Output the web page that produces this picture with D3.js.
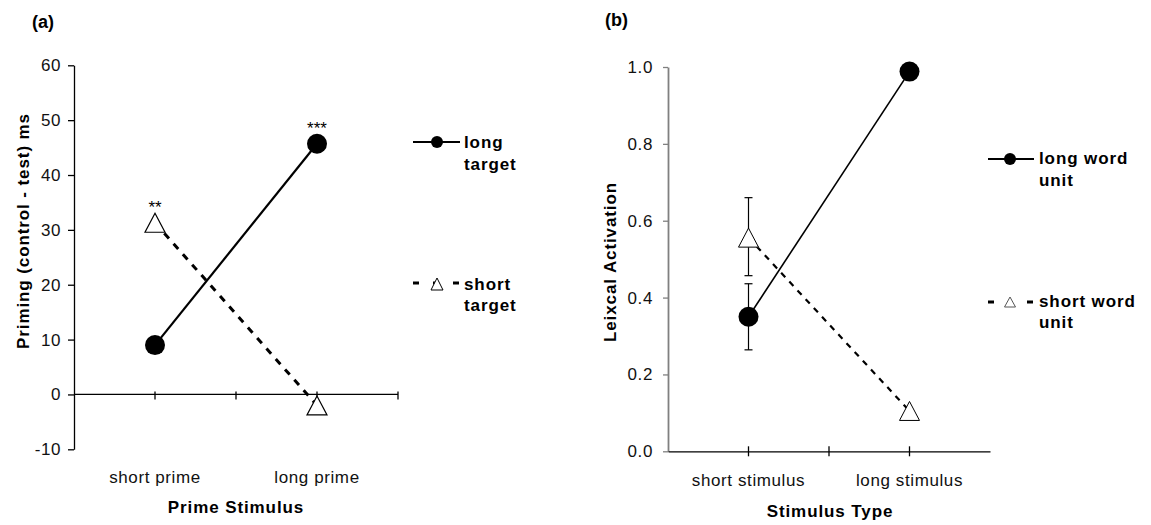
<!DOCTYPE html>
<html>
<head>
<meta charset="utf-8">
<script src="https://cdn.jsdelivr.net/npm/d3@7"></script>
<style>
  body { margin: 0; background: #fff; }
  text { font-family: Arial, "Liberation Sans", sans-serif; }
</style>
</head>
<body>
<svg id="chart" width="1151" height="525"></svg>
<script>
// panel (a) data
const primeCats = ["short prime", "long prime"];
const longTarget = [9.0, 45.7];
const shortTarget = [31.3, -2.0];
const longStars = ["", "***"];
const shortStars = ["**", ""];
const primeTicks = [-10, 0, 10, 20, 30, 40, 50, 60];

// panel (b) data
const stimCats = ["short stimulus", "long stimulus"];
const longWord = [0.35, 0.988];
const longWordLo = [0.264, null];
const longWordHi = [0.436, null];
const shortWord = [0.556, 0.105];
const shortWordLo = [0.457, null];
const shortWordHi = [0.66, null];
const actTicks = [0, 0.2, 0.4, 0.6, 0.8, 1.0];

const svg = d3.select("#chart");

// triangle centred on its bounding box, like the excel marker
const tri = (w, h) => `M0,${-h / 2}L${w / 2},${h / 2}L${-w / 2},${h / 2}Z`;

// the source image is a bit stretched sideways, letter-spacing makes up for it
function tickFont(sel) {
  sel.attr("font-size", "17px").attr("letter-spacing", "0.6px").attr("fill", "#111");
}
function boldFont(sel) {
  sel.attr("font-size", "17px").attr("font-weight", "bold").attr("letter-spacing", "0.9px");
}

function axisStyle(g, col) {
  g.selectAll("path").attr("stroke", col).attr("stroke-width", 1.3);
  g.selectAll("line").attr("stroke", col).attr("stroke-width", 1.3);
  g.selectAll("text").call(tickFont);
}

// ---------------- panel (a) ----------------
const xa = d3.scaleBand().domain(primeCats).range([74, 398]);
const ya = d3.scaleLinear().domain([-10, 60]).range([449.3, 65.3]);
const cxa = c => xa(c) + xa.bandwidth() / 2;

svg.append("text").attr("x", 32).attr("y", 28)
  .attr("font-size", "18px").attr("font-weight", "bold").text("(a)");

const yAxA = svg.append("g").attr("transform", "translate(74,0)")
  .call(d3.axisLeft(ya).tickValues(primeTicks).tickFormat(d => String(d))
    .tickSize(6).tickSizeOuter(0).tickPadding(7));
axisStyle(yAxA, "#000");

// x axis sits on zero, ticks at band edges and centres
const xa0 = ya(0);
svg.append("line").attr("x1", 74).attr("x2", 398).attr("y1", xa0).attr("y2", xa0)
  .attr("stroke", "#000").attr("stroke-width", 1.3);
const tickXa = [cxa(primeCats[0]), xa(primeCats[1]), cxa(primeCats[1]), 398];
svg.selectAll(".tka").data(tickXa).join("line")
  .attr("x1", d => d).attr("x2", d => d).attr("y1", xa0 - 3).attr("y2", xa0 + 5)
  .attr("stroke", "#000").attr("stroke-width", 1.3);
svg.selectAll(".cla").data(primeCats).join("text")
  .attr("x", d => cxa(d)).attr("y", 483).attr("text-anchor", "middle")
  .call(tickFont).text(d => d);

svg.append("text").attr("x", 236).attr("y", 513).attr("text-anchor", "middle")
  .call(boldFont).text("Prime Stimulus");
svg.append("text").attr("transform", "translate(29,231) rotate(-90)")
  .attr("text-anchor", "middle").call(boldFont)
  .text("Priming (control - test) ms");

const lineA = d3.line().x((d, i) => cxa(primeCats[i])).y(d => ya(d));
svg.append("path").datum(shortTarget).attr("d", lineA)
  .attr("fill", "none").attr("stroke", "#000").attr("stroke-width", 3)
  .attr("stroke-dasharray", "7,7");
svg.append("path").datum(longTarget).attr("d", lineA)
  .attr("fill", "none").attr("stroke", "#000").attr("stroke-width", 2.2);

svg.selectAll(".tria").data(shortTarget).join("path")
  .attr("d", tri(20, 19))
  .attr("transform", (d, i) => `translate(${cxa(primeCats[i])},${ya(d)})`)
  .attr("fill", "#fff").attr("stroke", "#000").attr("stroke-width", 1.2);
svg.selectAll(".dota").data(longTarget).join("circle")
  .attr("cx", (d, i) => cxa(primeCats[i])).attr("cy", d => ya(d)).attr("r", 10)
  .attr("fill", "#000");

// significance stars above the points
svg.selectAll(".stl").data(longTarget).join("text")
  .attr("x", (d, i) => cxa(primeCats[i])).attr("y", d => ya(d) - 10)
  .attr("text-anchor", "middle").attr("font-size", "17px")
  .text((d, i) => longStars[i]);
svg.selectAll(".sts").data(shortTarget).join("text")
  .attr("x", (d, i) => cxa(primeCats[i])).attr("y", d => ya(d) - 10)
  .attr("text-anchor", "middle").attr("font-size", "17px")
  .text((d, i) => shortStars[i]);

// legend (a)
const legA = svg.append("g");
legA.append("line").attr("x1", 413).attr("x2", 460).attr("y1", 142).attr("y2", 142)
  .attr("stroke", "#000").attr("stroke-width", 2);
legA.append("circle").attr("cx", 437).attr("cy", 142).attr("r", 6).attr("fill", "#000");
legA.append("text").attr("x", 464).attr("y", 148).call(boldFont).text("long");
legA.append("text").attr("x", 464).attr("y", 170).call(boldFont).text("target");
legA.append("line").attr("x1", 413).attr("x2", 460).attr("y1", 283).attr("y2", 283)
  .attr("stroke", "#000").attr("stroke-width", 3).attr("stroke-dasharray", "6,14");
legA.append("path").attr("d", tri(12, 12)).attr("transform", "translate(437,284)")
  .attr("fill", "#fff").attr("stroke", "#000").attr("stroke-width", 1);
legA.append("text").attr("x", 464).attr("y", 290).call(boldFont).text("short");
legA.append("text").attr("x", 464).attr("y", 311).call(boldFont).text("target");

// ---------------- panel (b) ----------------
const xb = d3.scaleBand().domain(stimCats).range([668, 990]);
const yb = d3.scaleLinear().domain([0, 1]).range([451.3, 67]);
const cxb = c => xb(c) + xb.bandwidth() / 2;

svg.append("text").attr("x", 605).attr("y", 26)
  .attr("font-size", "18px").attr("font-weight", "bold").text("(b)");

const yAxB = svg.append("g").attr("transform", "translate(668,0)")
  .call(d3.axisLeft(yb).tickValues(actTicks).tickFormat(d3.format(".1f"))
    .tickSize(5).tickSizeOuter(0).tickPadding(10));
axisStyle(yAxB, "#808080");
yAxB.select(".domain").attr("stroke-width", 1.8);

const xAxB = svg.append("g").attr("transform", `translate(0,${yb(0)})`)
  .call(d3.axisBottom(xb).tickSize(0).tickSizeOuter(0).tickFormat(""));
xAxB.selectAll("path").attr("stroke", "#000").attr("stroke-width", 1.3);
const tickXb = [cxb(stimCats[0]), xb(stimCats[1]), cxb(stimCats[1])];
svg.selectAll(".tkb").data(tickXb).join("line")
  .attr("x1", d => d).attr("x2", d => d).attr("y1", yb(0) - 5).attr("y2", yb(0) + 5)
  .attr("stroke", "#000").attr("stroke-width", 1.3);
svg.selectAll(".clb").data(stimCats).join("text")
  .attr("x", d => cxb(d)).attr("y", 486).attr("text-anchor", "middle")
  .call(tickFont).text(d => d);

svg.append("text").attr("x", 830).attr("y", 517).attr("text-anchor", "middle")
  .call(boldFont).text("Stimulus Type");
svg.append("text").attr("transform", "translate(616,262) rotate(-90)")
  .attr("text-anchor", "middle").call(boldFont)
  .text("Leixcal Activation");

// error bars
function errBars(lo, hi) {
  lo.forEach((l, i) => {
    if (l == null) return;
    const x = cxb(stimCats[i]);
    const g = svg.append("g").attr("stroke", "#000").attr("stroke-width", 1.2);
    g.append("line").attr("x1", x).attr("x2", x).attr("y1", yb(l)).attr("y2", yb(hi[i]));
    g.append("line").attr("x1", x - 4).attr("x2", x + 4).attr("y1", yb(l)).attr("y2", yb(l));
    g.append("line").attr("x1", x - 4).attr("x2", x + 4).attr("y1", yb(hi[i])).attr("y2", yb(hi[i]));
  });
}
errBars(shortWordLo, shortWordHi);
errBars(longWordLo, longWordHi);

const lineB = d3.line().x((d, i) => cxb(stimCats[i])).y(d => yb(d));
svg.append("path").datum(shortWord).attr("d", lineB)
  .attr("fill", "none").attr("stroke", "#000").attr("stroke-width", 2.2)
  .attr("stroke-dasharray", "6,6");
svg.append("path").datum(longWord).attr("d", lineB)
  .attr("fill", "none").attr("stroke", "#000").attr("stroke-width", 1.6);

svg.selectAll(".trib").data(shortWord).join("path")
  .attr("d", tri(20, 19))
  .attr("transform", (d, i) => `translate(${cxb(stimCats[i])},${yb(d)})`)
  .attr("fill", "#fff").attr("stroke", "#000").attr("stroke-width", 1);
svg.selectAll(".dotb").data(longWord).join("circle")
  .attr("cx", (d, i) => cxb(stimCats[i])).attr("cy", d => yb(d)).attr("r", 10)
  .attr("fill", "#000");

// legend (b)
const legB = svg.append("g");
legB.append("line").attr("x1", 988).attr("x2", 1034).attr("y1", 159).attr("y2", 159)
  .attr("stroke", "#000").attr("stroke-width", 2);
legB.append("circle").attr("cx", 1010).attr("cy", 159).attr("r", 6).attr("fill", "#000");
legB.append("text").attr("x", 1039).attr("y", 164).call(boldFont).text("long word");
legB.append("text").attr("x", 1039).attr("y", 186).call(boldFont).text("unit");
legB.append("line").attr("x1", 988).attr("x2", 1033).attr("y1", 302).attr("y2", 302)
  .attr("stroke", "#000").attr("stroke-width", 3).attr("stroke-dasharray", "6,33");
legB.append("path").attr("d", tri(11, 10)).attr("transform", "translate(1010,302)")
  .attr("fill", "#fff").attr("stroke", "#555").attr("stroke-width", 1);
legB.append("text").attr("x", 1039).attr("y", 307).call(boldFont).text("short word");
legB.append("text").attr("x", 1039).attr("y", 328).call(boldFont).text("unit");
</script>
</body>
</html>
